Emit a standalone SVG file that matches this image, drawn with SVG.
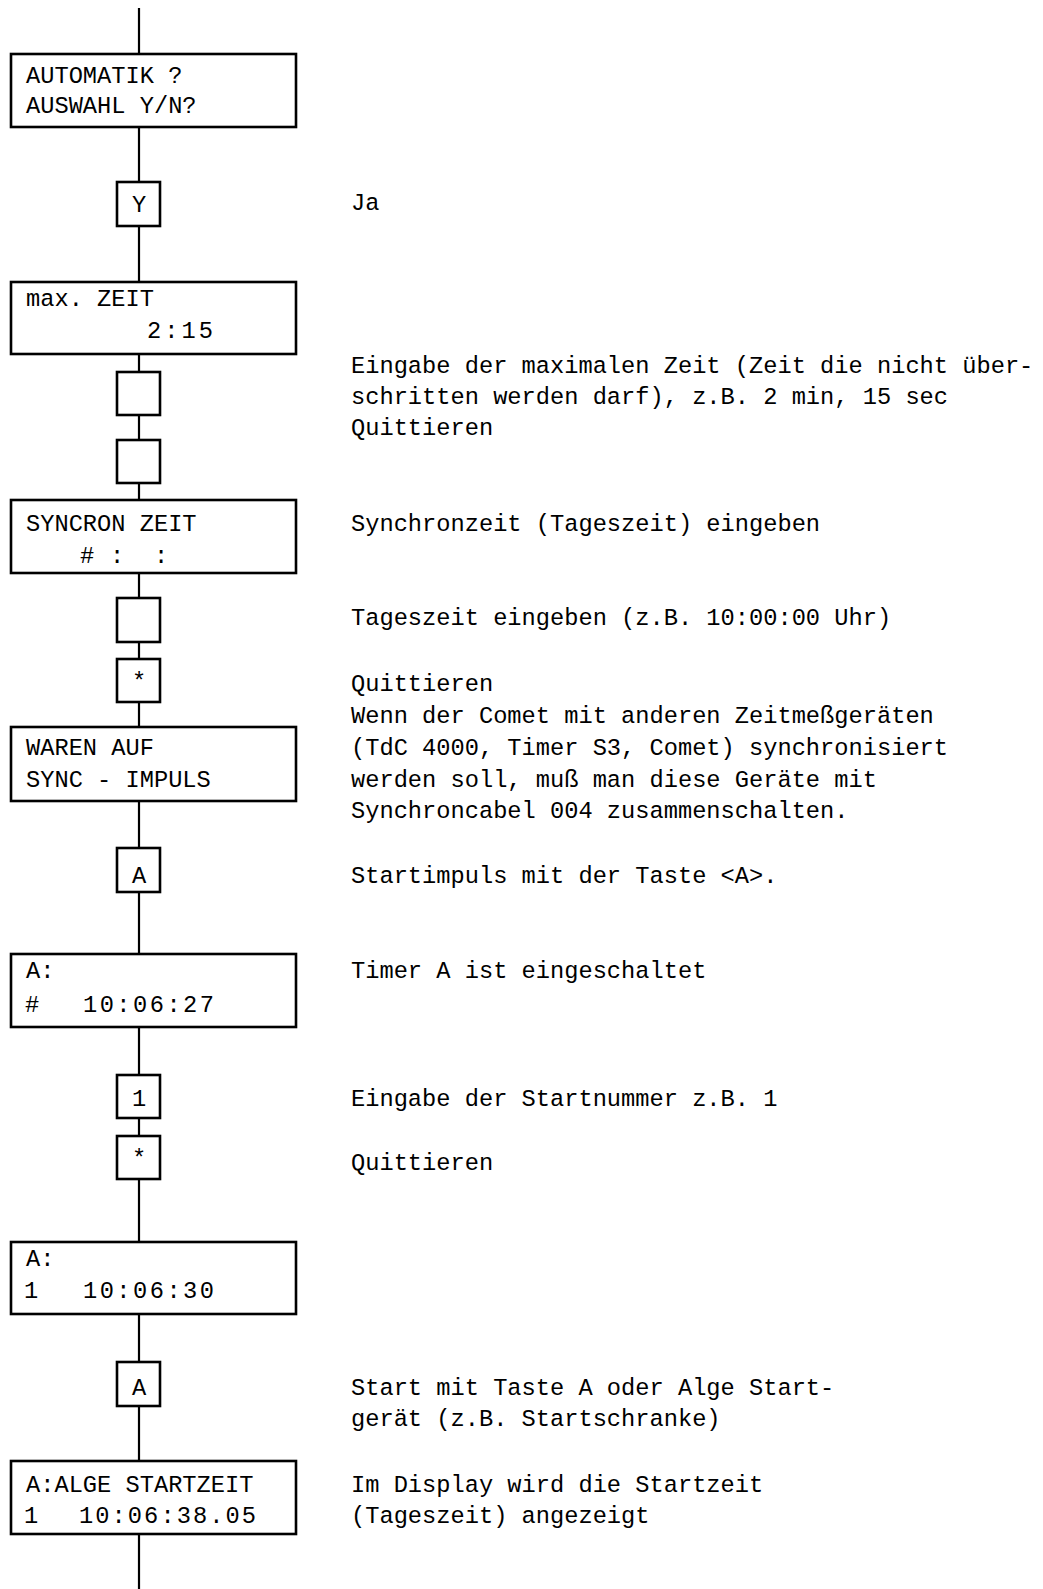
<svg xmlns="http://www.w3.org/2000/svg" width="1043" height="1589" viewBox="0 0 1043 1589">
<style>
.box{fill:#fff;stroke:#000;stroke-width:2.6}
.ln{stroke:#000;stroke-width:2.2;fill:none}
text{font-family:"Liberation Mono","Courier New",monospace;font-size:23.7px;fill:#000}
.k{text-anchor:middle}
</style>
<rect width="1043" height="1589" fill="#fff"/>
<g id="connectors">
<line class="ln" x1="139" y1="8" x2="139" y2="54"/>
<line class="ln" x1="139" y1="127" x2="139" y2="182"/>
<line class="ln" x1="139" y1="226" x2="139" y2="282"/>
<line class="ln" x1="139" y1="354" x2="139" y2="372"/>
<line class="ln" x1="139" y1="415" x2="139" y2="440"/>
<line class="ln" x1="139" y1="483" x2="139" y2="500"/>
<line class="ln" x1="139" y1="573" x2="139" y2="598"/>
<line class="ln" x1="139" y1="642" x2="139" y2="659"/>
<line class="ln" x1="139" y1="702" x2="139" y2="727"/>
<line class="ln" x1="139" y1="801" x2="139" y2="848"/>
<line class="ln" x1="139" y1="892" x2="139" y2="954"/>
<line class="ln" x1="139" y1="1027" x2="139" y2="1075"/>
<line class="ln" x1="139" y1="1118" x2="139" y2="1136"/>
<line class="ln" x1="139" y1="1179" x2="139" y2="1242"/>
<line class="ln" x1="139" y1="1314" x2="139" y2="1362"/>
<line class="ln" x1="139" y1="1406" x2="139" y2="1461"/>
<line class="ln" x1="139" y1="1534" x2="139" y2="1589"/>
</g>
<g id="n1"><rect class="box" x="11" y="54" width="285" height="73"/><text x="26" y="83">AUTOMATIK ?</text><text x="26" y="113">AUSWAHL Y/N?</text></g>
<g id="k1"><rect class="box" x="117" y="182" width="43" height="44"/><text class="k" x="139" y="212">Y</text></g>
<g id="n2"><rect class="box" x="11" y="282" width="285" height="72"/><text x="26" y="306">max. ZEIT</text><text x="147" y="338" textLength="66" lengthAdjust="spacing">2:15</text></g>
<g id="k2"><rect class="box" x="117" y="372" width="43" height="43"/></g>
<g id="k3"><rect class="box" x="117" y="440" width="43" height="43"/></g>
<g id="n3"><rect class="box" x="11" y="500" width="285" height="73"/><text x="26" y="531">SYNCRON ZEIT</text><text x="80" y="563">#</text><text x="110" y="563">:</text><text x="154" y="563">:</text></g>
<g id="k4"><rect class="box" x="117" y="598" width="43" height="44"/></g>
<g id="k5"><rect class="box" x="117" y="659" width="43" height="43"/><text class="k" x="139" y="689">*</text></g>
<g id="n4"><rect class="box" x="11" y="727" width="285" height="74"/><text x="26" y="755">WAREN AUF</text><text x="26" y="787">SYNC - IMPULS</text></g>
<g id="k6"><rect class="box" x="117" y="848" width="43" height="44"/><text class="k" x="139" y="883">A</text></g>
<g id="n5"><rect class="box" x="11" y="954" width="285" height="73"/><text x="26" y="978">A:</text><text x="25" y="1012">#</text><text x="83" y="1012" textLength="131" lengthAdjust="spacing">10:06:27</text></g>
<g id="k7"><rect class="box" x="117" y="1075" width="43" height="43"/><text class="k" x="139" y="1106">1</text></g>
<g id="k8"><rect class="box" x="117" y="1136" width="43" height="43"/><text class="k" x="139" y="1166">*</text></g>
<g id="n6"><rect class="box" x="11" y="1242" width="285" height="72"/><text x="26" y="1266">A:</text><text x="24" y="1298">1</text><text x="83" y="1298" textLength="131" lengthAdjust="spacing">10:06:30</text></g>
<g id="k9"><rect class="box" x="117" y="1362" width="43" height="44"/><text class="k" x="139" y="1395">A</text></g>
<g id="n7"><rect class="box" x="11" y="1461" width="285" height="73"/><text x="26" y="1492">A:ALGE STARTZEIT</text><text x="24" y="1523">1</text><text x="79" y="1523" textLength="177" lengthAdjust="spacing">10:06:38.05</text></g>
<g id="notes">
<text x="351" y="210">Ja</text>
<text x="351" y="373">Eingabe der maximalen Zeit (Zeit die nicht über-</text>
<text x="351" y="404">schritten werden darf), z.B. 2 min, 15 sec</text>
<text x="351" y="435">Quittieren</text>
<text x="351" y="531">Synchronzeit (Tageszeit) eingeben</text>
<text x="351" y="625">Tageszeit eingeben (z.B. 10:00:00 Uhr)</text>
<text x="351" y="691">Quittieren</text>
<text x="351" y="723">Wenn der Comet mit anderen Zeitmeßgeräten</text>
<text x="351" y="755">(TdC 4000, Timer S3, Comet) synchronisiert</text>
<text x="351" y="787">werden soll, muß man diese Geräte mit</text>
<text x="351" y="818">Synchroncabel 004 zusammenschalten.</text>
<text x="351" y="883">Startimpuls mit der Taste &lt;A&gt;.</text>
<text x="351" y="978">Timer A ist eingeschaltet</text>
<text x="351" y="1106">Eingabe der Startnummer z.B. 1</text>
<text x="351" y="1170">Quittieren</text>
<text x="351" y="1395">Start mit Taste A oder Alge Start-</text>
<text x="351" y="1426">gerät (z.B. Startschranke)</text>
<text x="351" y="1492">Im Display wird die Startzeit</text>
<text x="351" y="1523">(Tageszeit) angezeigt</text>
</g>
</svg>
